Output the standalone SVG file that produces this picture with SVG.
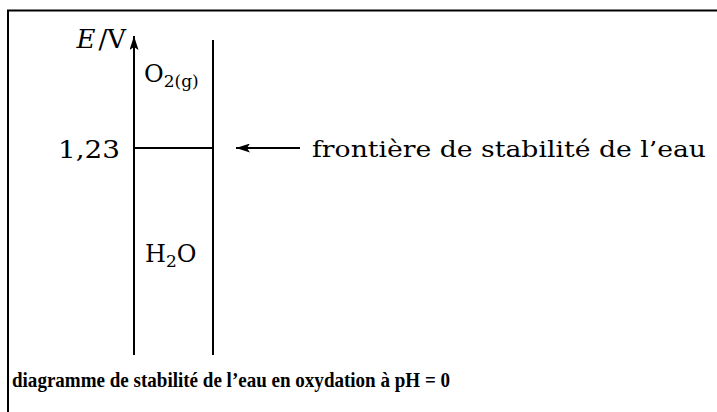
<svg xmlns="http://www.w3.org/2000/svg" width="717" height="412" viewBox="0 0 717 412">
<defs>
<marker id="ah" markerWidth="14" markerHeight="9" refX="14" refY="4.5" orient="auto" markerUnits="userSpaceOnUse">
<path d="M0,0 L14,4.5 L0,9 L3,4.5 Z" fill="#000"/>
</marker>
<style>
.t{font-family:"DejaVu Serif","Liberation Serif",serif;fill:#000}
.c{font-family:"Liberation Serif","DejaVu Serif",serif;fill:#000;font-weight:bold}
.ln{stroke:#000;stroke-width:2;fill:none}
</style>
</defs>
<rect width="717" height="412" fill="#fff"/>
<path d="M8,412 V10.5 H717" stroke="#000" stroke-width="2" fill="none"/>
<g id="axis">
<line class="ln" x1="134" y1="355" x2="134" y2="36" marker-end="url(#ah)"/>
<text class="t" x="126" y="48" font-size="26" text-anchor="end"><tspan font-style="italic">E</tspan><tspan dx="3">/V</tspan></text>
</g>
<g id="boundary">
<line class="ln" x1="213" y1="40" x2="213" y2="355"/>
<line class="ln" x1="134" y1="148" x2="213" y2="148"/>
<text class="t" x="58" y="158" font-size="24" textLength="62" lengthAdjust="spacingAndGlyphs">1,23</text>
</g>
<g id="o2">
<text class="t" x="144" y="82" font-size="24">O<tspan font-size="17" dy="5">2(g)</tspan></text>
</g>
<g id="h2o">
<text class="t" x="145" y="262" font-size="24">H<tspan font-size="17" dy="5">2</tspan><tspan dy="-5">O</tspan></text>
</g>
<g id="connectors">
<line class="ln" x1="300" y1="148" x2="236" y2="148" marker-end="url(#ah)"/>
</g>
<g id="label">
<text class="t" x="312" y="157" font-size="22" textLength="394" lengthAdjust="spacingAndGlyphs">frontière de stabilité de l’eau</text>
</g>
<g id="caption">
<text class="c" x="12" y="387" font-size="22" textLength="438" lengthAdjust="spacingAndGlyphs">diagramme de stabilité de l’eau en oxydation à pH = 0</text>
</g>
</svg>
